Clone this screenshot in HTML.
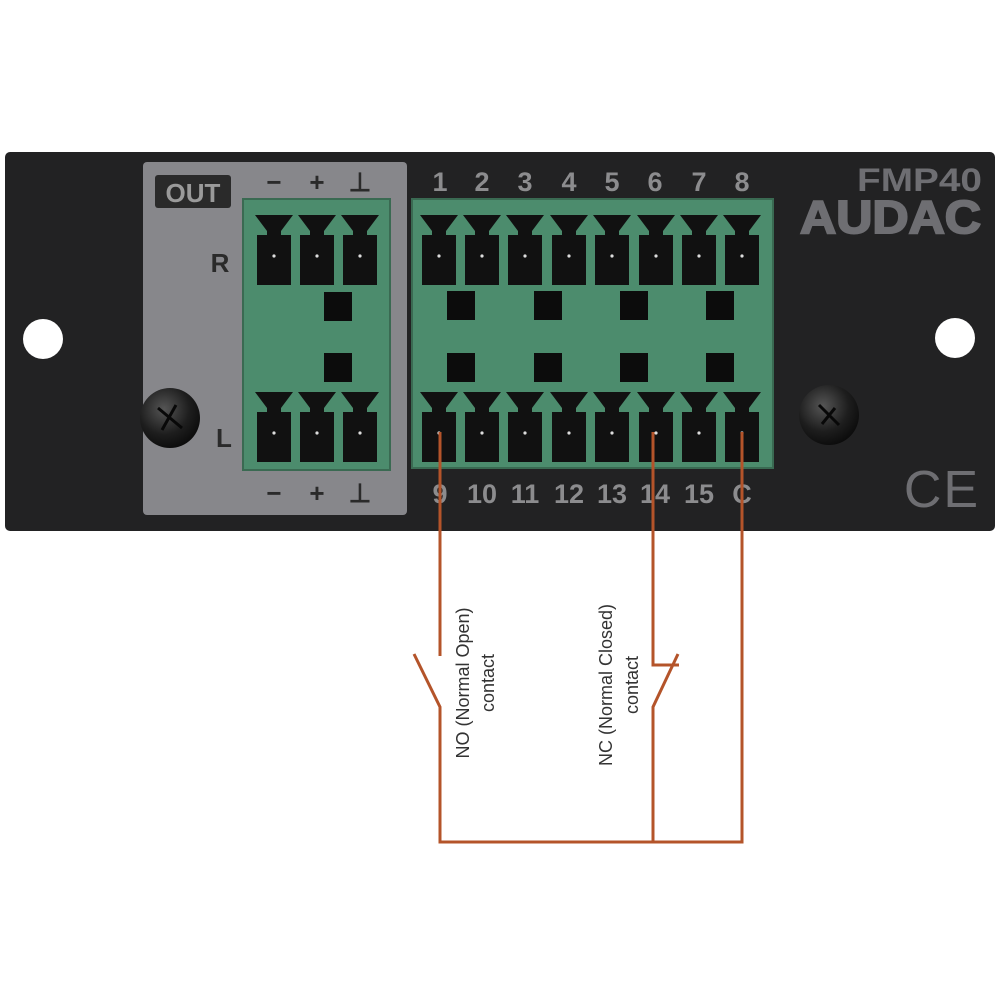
<!DOCTYPE html>
<html><head><meta charset="utf-8"><style>
html,body{margin:0;padding:0;background:#fff}
svg{display:block}
</style></head><body>
<svg width="1000" height="1000" viewBox="0 0 1000 1000" xmlns="http://www.w3.org/2000/svg" font-family="Liberation Sans, sans-serif">
<defs>
<g id="t">
<path d="M-19 0 H19 L7 16 V20 H17 V70 H-17 V20 H-7 V16 Z" fill="#111"/>
<circle cx="0" cy="41" r="1.6" fill="#ddd"/>
</g>
<radialGradient id="sg" cx="40%" cy="35%" r="70%"><stop offset="0" stop-color="#555"/><stop offset="0.6" stop-color="#1e1e1e"/><stop offset="1" stop-color="#0a0a0a"/></radialGradient>
</defs>
<rect x="5" y="152" width="990" height="379" rx="5" fill="#222223"/>
<rect x="143" y="162" width="264" height="353" rx="4" fill="#87878b"/>
<circle cx="43" cy="339" r="20" fill="#fff"/>
<circle cx="955" cy="338" r="20" fill="#fff"/>
<!-- OUT -->
<rect x="155" y="175" width="76" height="33" rx="3" fill="#2a2a2a"/>
<text x="193" y="202" font-size="26" font-weight="bold" fill="#9a9a9a" text-anchor="middle">OUT</text>
<text x="220" y="272" font-size="26" font-weight="bold" fill="#2a2a2a" text-anchor="middle">R</text>
<text x="224" y="447" font-size="26" font-weight="bold" fill="#2a2a2a" text-anchor="middle">L</text>
<g font-size="26" font-weight="bold" fill="#2a2a2a" text-anchor="middle">
<text x="274" y="191">−</text><text x="317" y="191">+</text><text x="360" y="191">⊥</text>
<text x="274" y="502">−</text><text x="317" y="502">+</text><text x="360" y="502">⊥</text>
</g>
<!-- left block -->
<rect x="243" y="199" width="147" height="271" fill="#4c8c6d" stroke="#3a6a52" stroke-width="2"/>
<use href="#t" x="274" y="215"/><use href="#t" x="317" y="215"/><use href="#t" x="360" y="215"/>
<use href="#t" x="274" y="392"/><use href="#t" x="317" y="392"/><use href="#t" x="360" y="392"/>
<rect x="324" y="292" width="28" height="29" fill="#0c0c0c"/>
<rect x="324" y="353" width="28" height="29" fill="#0c0c0c"/>
<!-- right block -->
<rect x="412" y="199" width="361" height="269" fill="#4c8c6d" stroke="#3a6a52" stroke-width="2"/>
<g>
<use href="#t" x="439" y="215"/><use href="#t" x="482" y="215"/><use href="#t" x="525" y="215"/><use href="#t" x="569" y="215"/><use href="#t" x="612" y="215"/><use href="#t" x="656" y="215"/><use href="#t" x="699" y="215"/><use href="#t" x="742" y="215"/>
<use href="#t" x="439" y="392"/><use href="#t" x="482" y="392"/><use href="#t" x="525" y="392"/><use href="#t" x="569" y="392"/><use href="#t" x="612" y="392"/><use href="#t" x="656" y="392"/><use href="#t" x="699" y="392"/><use href="#t" x="742" y="392"/>
</g>
<g fill="#0c0c0c">
<rect x="447" y="291" width="28" height="29"/><rect x="534" y="291" width="28" height="29"/><rect x="620" y="291" width="28" height="29"/><rect x="706" y="291" width="28" height="29"/>
<rect x="447" y="353" width="28" height="29"/><rect x="534" y="353" width="28" height="29"/><rect x="620" y="353" width="28" height="29"/><rect x="706" y="353" width="28" height="29"/>
</g>
<g font-size="27" font-weight="bold" fill="#8c8c8e" text-anchor="middle">
<text x="440" y="191">1</text><text x="482" y="191">2</text><text x="525" y="191">3</text><text x="569" y="191">4</text><text x="612" y="191">5</text><text x="655" y="191">6</text><text x="699" y="191">7</text><text x="742" y="191">8</text>
<text x="440" y="503">9</text><text x="482" y="503">10</text><text x="525" y="503">11</text><text x="569" y="503">12</text><text x="612" y="503">13</text><text x="655" y="503">14</text><text x="699" y="503">15</text><text x="742" y="503">C</text>
</g>
<!-- screws -->
<circle cx="170" cy="418" r="30" fill="url(#sg)"/>
<path d="M158 408 L182 428 M176 405 L162 430" stroke="#080808" stroke-width="3"/>
<circle cx="829" cy="415" r="30" fill="url(#sg)"/>
<path d="M819 405 L839 425 M835 408 L822 424" stroke="#080808" stroke-width="3"/>
<!-- brand -->
<text x="857" y="191" font-size="32" font-weight="bold" fill="#6e6e72" textLength="125" lengthAdjust="spacingAndGlyphs">FMP40</text>
<text x="800" y="233" font-size="46" font-weight="bold" fill="#6e6e72" stroke="#6e6e72" stroke-width="2" textLength="181" lengthAdjust="spacingAndGlyphs">AUDAC</text>
<text x="942" y="507" font-size="52" fill="#6e6e72" text-anchor="middle" letter-spacing="2">CE</text>
<!-- wires -->
<g stroke="#b4542a" stroke-width="3" fill="none">
<path d="M440 432 V656"/>
<path d="M414 654 L440 707 V842 H742 V432"/>
<path d="M653 432 V665 H679"/>
<path d="M678 654 L653 707 V842"/>
</g>
<g font-size="18" fill="#333" text-anchor="middle">
<text transform="translate(469 683) rotate(-90)">NO (Normal Open)</text>
<text transform="translate(494 683) rotate(-90)">contact</text>
<text transform="translate(612 685) rotate(-90)">NC (Normal Closed)</text>
<text transform="translate(638 685) rotate(-90)">contact</text>
</g>
</svg>
</body></html>
